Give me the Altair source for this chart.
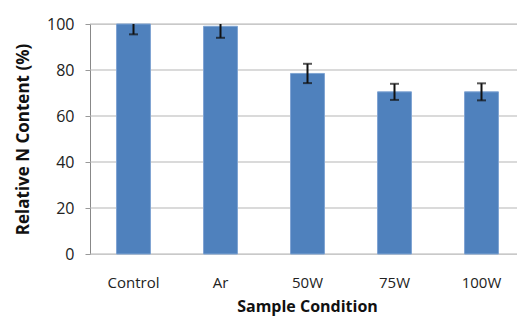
import altair as alt
import pandas as pd

categories = ["Control", "Ar", "50W", "75W", "100W"]
values = [100, 99, 78.5, 70.5, 70.5]
errors = [4.5, 5, 4.2, 3.5, 3.7]
grid_values = [0, 20, 40, 60, 80, 100]

df = pd.DataFrame({"cond": categories, "val": values, "err": errors})
df["lo"] = df["val"] - df["err"]
df["hi"] = df["val"] + df["err"]
grid_df = pd.DataFrame({"g": grid_values})

FONT = "Open Sans"
PLOT_W = 435  # full plot width (right part is cropped, as in the reference)

x_scale = alt.Scale(domain=categories, range=[0, PLOT_W], paddingInner=0.61, paddingOuter=0.305)
y_scale = alt.Scale(domain=[0, 100])

x = alt.X("cond:N", sort=categories, title="Sample Condition", scale=x_scale,
          axis=alt.Axis(labelAngle=0, ticks=False, domain=False, labelPadding=21, titlePadding=8,
                        labelFont=FONT, labelFontSize=15, labelColor="#222",
                        titleFont=FONT, titleFontSize=16, titleFontWeight="bold",
                        titleColor="#111", grid=False, titleX=217))
y = alt.Y("val:Q", title="Relative N Content (%)", scale=y_scale,
          axis=alt.Axis(values=grid_values, tickSize=5, tickColor="#999", grid=False,
                        labelPadding=11, titlePadding=14,
                        labelFont=FONT, labelFontSize=16, labelColor="#222",
                        titleFont=FONT, titleFontSize=17, titleFontWeight="bold",
                        titleColor="#111", domainColor="#888"))

grid = alt.Chart(grid_df).mark_rule(color="#b5b5b5", strokeWidth=1).encode(
    x=alt.value(0), x2=alt.value(PLOT_W), y=alt.Y("g:Q", scale=y_scale))

bars = alt.Chart(df).mark_bar(color="#4F81BD", stroke="#7fa4d3", strokeWidth=1).encode(x=x, y=y)

rules = alt.Chart(df).mark_rule(color="#111", strokeWidth=2, clip=True).encode(
    x=alt.X("cond:N", sort=categories, scale=x_scale),
    y=alt.Y("lo:Q", scale=y_scale),
    y2="hi:Q")

caps_lo = alt.Chart(df).mark_tick(color="#111", thickness=2, size=9, orient="horizontal", clip=True).encode(
    x=alt.X("cond:N", sort=categories, scale=x_scale), y=alt.Y("lo:Q", scale=y_scale))
caps_hi = alt.Chart(df).mark_tick(color="#111", thickness=2, size=9, orient="horizontal", clip=True).encode(
    x=alt.X("cond:N", sort=categories, scale=x_scale), y=alt.Y("hi:Q", scale=y_scale))

chart = alt.layer(grid, bars, rules, caps_lo, caps_hi).properties(
    width=427, height=230,
    autosize=alt.AutoSizeParams(type="none"),
    padding={"left": 82, "top": 16, "right": 0, "bottom": 63},
).configure_view(stroke=None).configure(background="white")

chart.save("out.html", embed_options={"renderer": "svg", "actions": False})
